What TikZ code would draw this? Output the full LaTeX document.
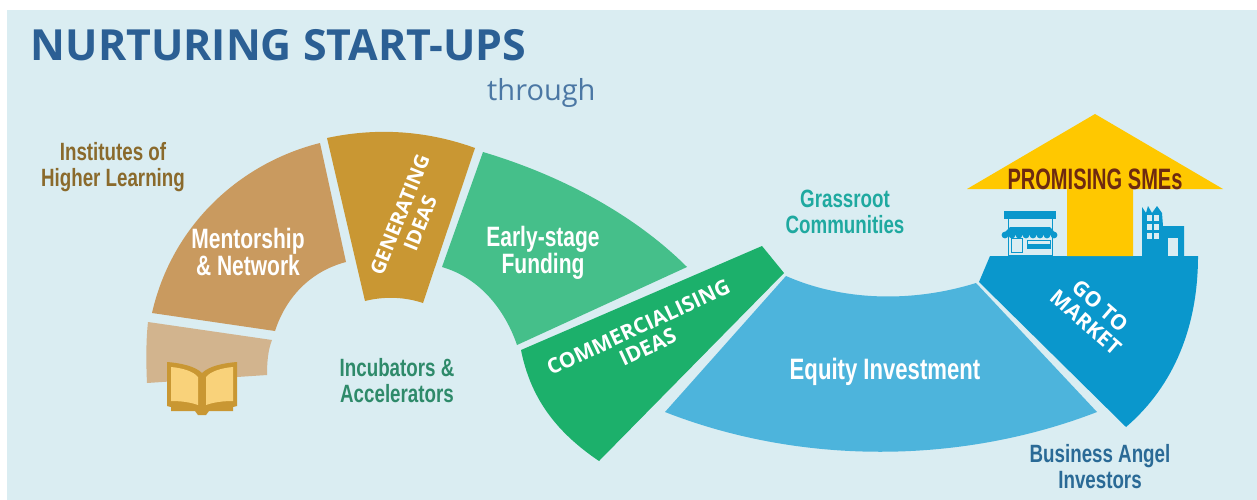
\documentclass[tikz,border=0pt]{standalone}
\usepackage{fontspec}
\setmainfont{Open Sans}
\newfontfamily\cond[FakeStretch=0.75]{Liberation Sans}
\newfontfamily\condb[FakeStretch=0.68]{Liberation Sans}
\newfontfamily\opn{Open Sans}
\definecolor{bgc}{HTML}{DAEDF2}
\definecolor{mentorc}{HTML}{C99A5F}
\definecolor{bandc}{HTML}{D2B48E}
\definecolor{genc}{HTML}{C99733}
\definecolor{earlyc}{HTML}{45BF8A}
\definecolor{commc}{HTML}{1CB06B}
\definecolor{eqc}{HTML}{4DB4DC}
\definecolor{goc}{HTML}{0A97CC}
\definecolor{yelc}{HTML}{FFC800}
\definecolor{pagebk}{HTML}{F9D27A}
\definecolor{titlec}{HTML}{2B5F94}
\definecolor{instc}{HTML}{8A6A2C}
\definecolor{incc}{HTML}{2E8A6A}
\definecolor{grassc}{HTML}{1FA9A0}
\definecolor{angelc}{HTML}{2A6A96}
\definecolor{smec}{HTML}{6E2A10}
\tikzset{
 lab/.style={font=\cond\bfseries\fontsize{28}{25}\selectfont,text=white,align=center,inner sep=0pt},
 side/.style={font=\cond\bfseries\fontsize{25}{26}\selectfont,align=center,inner sep=0pt},
 caps/.style={font=\opn\bfseries\fontsize{21}{22}\selectfont,text=white,align=center,inner sep=0pt},
}
\begin{document}
\begin{tikzpicture}[x=1pt,y=-1pt]
\useasboundingbox (0,0) rectangle (1257,500);
\fill[white] (0,0) rectangle (1257,500);
\fill[bgc] (7,10) rectangle (1257,500);
% segments
\fill[bandc] (148,322) -- (272,340) .. controls (268,350) and (267,362) .. (267,375) -- (147,383) .. controls (146,362) and (146,340) .. (148,322) -- cycle;
\fill[mentorc] (152,313) .. controls (172,225) and (240,163) .. (320,143) -- (346,262) .. controls (308,272) and (285,300) .. (275,331) -- cycle;
\fill[genc] (327,138) .. controls (378,127) and (428,131) .. (475,148) -- (423,303) .. controls (405,297) and (385,296) .. (365,301) -- cycle;
\fill[earlyc] (483,152) .. controls (570,178) and (640,220) .. (687,267) -- (517,345) .. controls (505,310) and (480,278) .. (442,267) -- cycle;
\fill[commc] (521,350) -- (762,246) -- (784,273) -- (599,461) .. controls (553,430) and (530,395) .. (521,350) -- cycle;
\fill[eqc] (786,276) .. controls (845,302) and (915,302) .. (976,283) -- (1097,412) .. controls (960,465) and (800,465) .. (665,412) -- cycle;
\fill[goc] (990,256) -- (1198,256) .. controls (1198,325) and (1175,385) .. (1126,427) -- (979,282) -- cycle;
% arrow
\fill[yelc] (1095,114) -- (1223,189) -- (1133,189) -- (1133,256) -- (1067,256) -- (1067,189) -- (967,189) -- cycle;
% shop
\fill[goc] (1004,211) rectangle (1056,219);
\draw[goc,line width=1pt] (1008,219) -- (1008,256) (1052,219) -- (1052,256);
\fill[goc] (1010,227) -- (1050,227) -- (1057,235) -- (1002,235) -- cycle;
\foreach \k in {0,...,7}{\fill[goc] ({1005+7*\k},235) circle[radius=3.4];}
\draw[goc,line width=1pt] (1011,238) rectangle (1022,252);
\draw[goc,line width=1pt] (1027,240) rectangle (1050,248);
\fill[goc] (1027,244) rectangle (1050,248);
\draw[goc,line width=1pt] (1008,255) -- (1052,255);
% factory
\fill[goc] (1142,256) -- (1142,207) -- (1146,213) -- (1148,206) -- (1152,213) -- (1157,206) -- (1162,213) -- (1163,226) -- (1184,226) -- (1184,256) -- cycle;
\fill[bgc] (1168,238) rectangle (1178,256);
\foreach \i in {0,1,2}{\foreach \j in {0,1}{\fill[bgc] ({1147+\j*6.6},{215+\i*9}) rectangle ({1152+\j*6.6},{221+\i*9});}}
% book
\fill[genc] (167,362) .. controls (180,363) and (195,366) .. (202,373) .. controls (209,366) and (224,363) .. (237,362) -- (237,406) -- (233,407) -- (233,411) -- (209,411) -- (206,415) -- (198,415) -- (195,411) -- (171,411) -- (171,407) -- (167,406) -- cycle;
\fill[pagebk] (171,367) .. controls (182,368) and (193,371) .. (198,377) -- (198,405) .. controls (190,402) and (180,401) .. (171,401) -- cycle;
\fill[pagebk] (233,367) .. controls (222,368) and (211,371) .. (206,377) -- (206,405) .. controls (214,402) and (224,401) .. (233,401) -- cycle;
% texts
\node[anchor=west,inner sep=0pt,text=titlec,font=\opn\bfseries\fontsize{42.9}{44}\selectfont] (title) at (30.5,45) {NURTURING START-UPS};
\node[anchor=west,inner sep=0pt,text=titlec!85!white,font=\opn\fontsize{29}{31}\selectfont] (through) at (487,93) {through};
\node[side,text=instc] (inst) at (113,167) {Institutes of\\Higher Learning};
\node[side,text=incc] (inc) at (397,381) {Incubators \&\\Accelerators};
\node[side,text=grassc] (grass) at (845,212) {Grassroot\\Communities};
\node[side,text=angelc] (angel) at (1100,467) {Business Angel\\Investors};
\node[lab] (mentor) at (248,252) {Mentorship\\\& Network};
\node[lab] (early) at (543,253) {Early-stage\\Funding};
\node[lab,font=\cond\bfseries\fontsize{29.5}{30}\selectfont] (equity) at (885,372) {Equity Investment};
\node[font=\condb\bfseries\fontsize{29.5}{30}\selectfont,text=smec,inner sep=0pt] (sme) at (1095,179) {PROMISING SMEs};
\node[caps,rotate=68,font=\opn\bfseries\fontsize{20}{22}\selectfont] (gen) at (410,219) {GENERATING\\IDEAS};
\node[caps,rotate=25] (comm) at (643,337) {COMMERCIALISING\\IDEAS};
\node[caps,rotate=-41] (go) at (1093,314) {GO TO\\MARKET};
\end{tikzpicture}
\end{document}
